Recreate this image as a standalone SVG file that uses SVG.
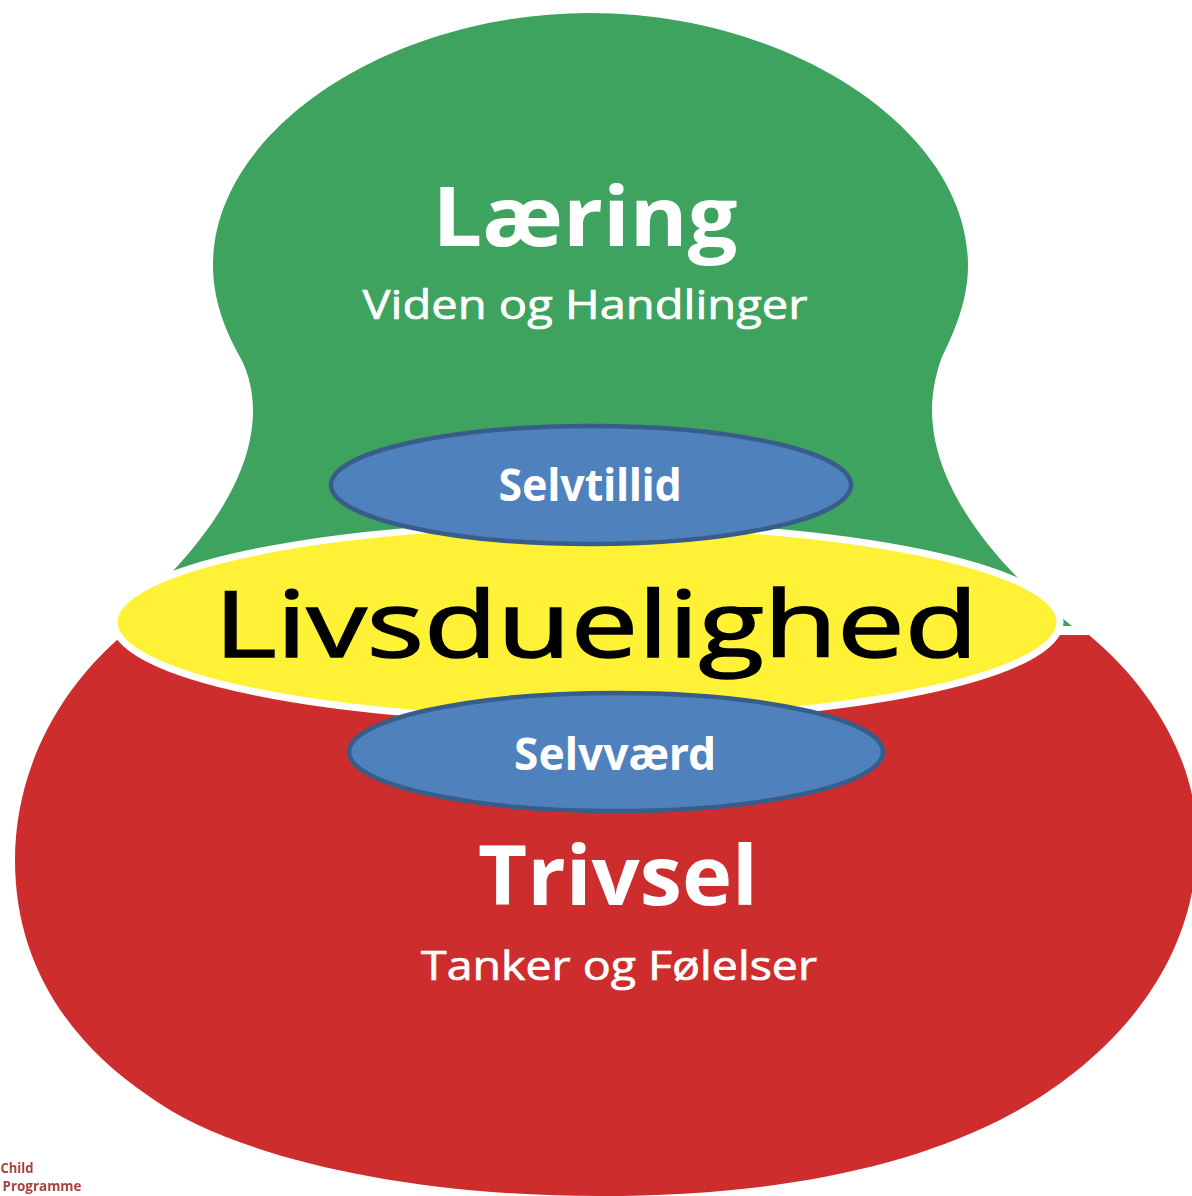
<svg xmlns="http://www.w3.org/2000/svg" width="1192" height="1196" viewBox="0 0 1192 1196">
<defs><filter id="soft" x="-5%" y="-20%" width="110%" height="140%"><feGaussianBlur stdDeviation="0.6"/></filter></defs>
<style>
text{font-family:"Open Sans","Noto Sans",sans-serif;text-anchor:middle}
.w{fill:#fff}
.b{font-weight:700}
.blue{fill:#4f81bd;stroke:#385d8a;stroke-width:4.5}
.s{font-family:"Noto Sans","Open Sans",sans-serif;font-weight:700;font-size:44px;fill:#fff}
.sub{font-size:40px;fill:#fff;font-weight:500;stroke:#fff;stroke-width:.7}
</style>
<rect width="1192" height="1196" fill="#fff"/>
<g id="laering">
<path d="M590 13C790 13 968 130 968 265C968 300 955 330 942 357C935 375 932 395 932 410C932 490 1000 570 1072 626L1060 626L117 640L174 570C215 525 253 470 253 410C253 395 250 375 240 357C225 330 213 300 213 265C213 130 390 13 590 13Z" fill="#3da35f"/>
<text class="w b" x="585" y="246" font-size="83" textLength="305" lengthAdjust="spacingAndGlyphs">Læring</text>
<text class="sub" x="585" y="319" textLength="445" lengthAdjust="spacingAndGlyphs">Viden og Handlinger</text>
</g>
<g id="trivsel">
<path d="M117 640C50 700 15 780 15 860C15 960 65 1040 150 1097C230 1155 400 1196 600 1196C750 1196 890 1175 1000 1120C1085 1077 1197 985 1197 840C1197 765 1155 690 1089 635L1000 635L500 700Z" fill="#ce2d2d"/>
<text class="w b" x="618" y="905" font-size="82" textLength="280" lengthAdjust="spacingAndGlyphs">Trivsel</text>
<text class="sub" x="619" y="980" textLength="396" lengthAdjust="spacingAndGlyphs">Tanker og Følelser</text>
</g>
<g id="livsduelighed">
<ellipse cx="587" cy="622" rx="473" ry="98" fill="#fff236" stroke="#fff" stroke-width="7"/>
<text x="596" y="657" font-size="92" font-weight="500" textLength="764" lengthAdjust="spacingAndGlyphs" fill="#000" stroke="#000" stroke-width="1.6">Livsduelighed</text>
</g>
<g id="selvtillid">
<ellipse class="blue" cx="591" cy="485" rx="260" ry="59"/>
<text class="s" x="590" y="501" textLength="183" lengthAdjust="spacingAndGlyphs">Selvtillid</text>
</g>
<g id="selvvaerd">
<ellipse class="blue" cx="616" cy="752" rx="267" ry="59"/>
<text class="s" x="615" y="770" textLength="202" lengthAdjust="spacingAndGlyphs">Selvværd</text>
</g>
<g id="credit" fill="#a8433c" font-weight="700" font-size="14" filter="url(#soft)">
<text x="17" y="1173" textLength="33" lengthAdjust="spacingAndGlyphs">Child</text>
<text x="42" y="1191" textLength="79" lengthAdjust="spacingAndGlyphs">Programme</text>
</g>
<g id="connectors"/>
</svg>
